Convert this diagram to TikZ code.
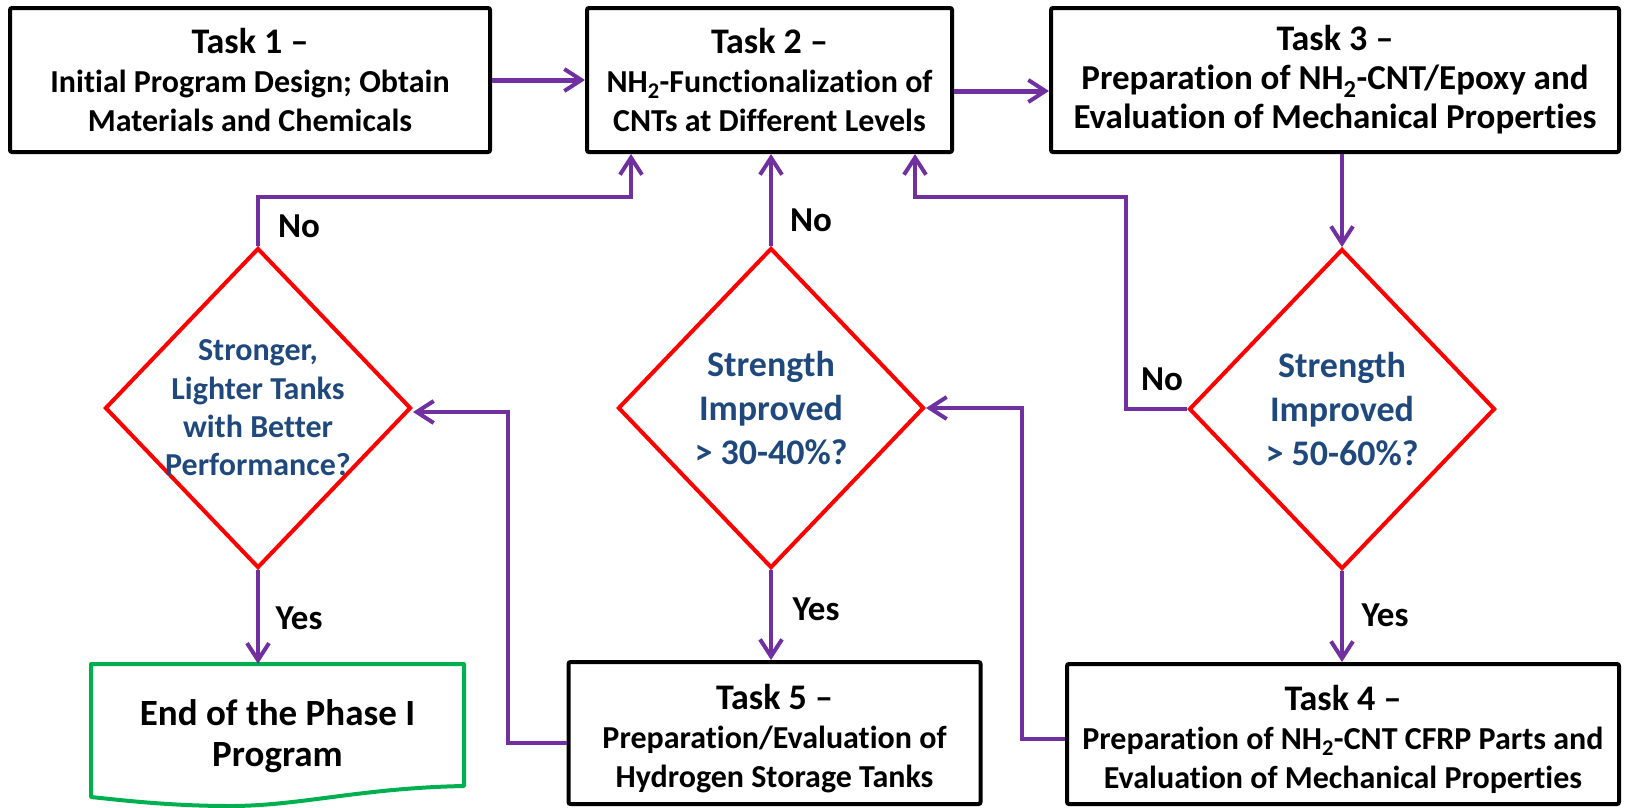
\documentclass[tikz,border=0pt]{standalone}
\usepackage{fontspec}
\setmainfont{Carlito}[Ligatures={NoCommon}]
\usetikzlibrary{arrows.meta,shapes.geometric,calc}
\definecolor{lpurple}{RGB}{112,48,160}
\definecolor{dblue}{RGB}{31,73,125}
\definecolor{lgreen}{RGB}{0,176,80}
\begin{document}
\begin{tikzpicture}[x=1pt,y=-1pt,
 taskbox/.style={draw=black,line width=4pt,rounded corners=2pt,align=center,inner sep=0pt,font=\bfseries\fontsize{32}{39}\selectfont},
 decbox/.style={diamond,draw=red,line width=4pt,inner sep=-60pt,minimum width=306pt,minimum height=320pt,align=center,text=dblue},
 arr/.style={draw=lpurple,line width=4pt,-{Straight Barb[length=17pt,width=22pt,line width=4pt]}},
 lbl/.style={font=\bfseries\fontsize{35}{40}\selectfont,inner sep=0pt}]
\useasboundingbox (0,0) rectangle (1627,807);
% boxes
\node[taskbox,minimum width=480pt,minimum height=144pt] (t1) at (250,80)
 {{\fontsize{36}{39}\selectfont Task 1 –}\\Initial Program Design; Obtain\\Materials and Chemicals};
\node[taskbox,minimum width=365pt,minimum height=144pt] (t2) at (769.5,80)
 {{\fontsize{36}{39}\selectfont Task 2 –}\\NH\textsubscript{2}-Functionalization of\\CNTs at Different Levels};
\node[taskbox,minimum width=568pt,minimum height=144pt,font=\bfseries\fontsize{35}{39}\selectfont] (t3) at (1335,80)
 {{\fontsize{36}{39}\selectfont Task 3 –}\\Preparation of NH\textsubscript{2}-CNT/Epoxy and\\Evaluation of Mechanical Properties};
\node[taskbox,minimum width=412pt,minimum height=142pt] (t5) at (774.5,733)
 {{\fontsize{36}{40}\selectfont\rule{0pt}{36pt}Task 5 –}\\Preparation/Evaluation of\\Hydrogen Storage Tanks};
\node[taskbox,minimum width=552pt,minimum height=140pt] (t4) at (1343,734)
 {{\fontsize{36}{40}\selectfont\rule{0pt}{36pt}Task 4 –}\\Preparation of NH\textsubscript{2}-CNT CFRP Parts and\\Evaluation of Mechanical Properties};
% decisions
\node[decbox,font=\bfseries\fontsize{32}{38.4}\selectfont] (d1) at (258,408)
 {Stronger,\\Lighter Tanks\\with Better\\Performance?};
\node[decbox,font=\bfseries\fontsize{36}{43.6}\selectfont] (d2) at (771,408)
 {Strength\\Improved\\> 30-40\%?};
\node[decbox,font=\bfseries\fontsize{36}{43.6}\selectfont] (d3) at (1342,409)
 {Strength\\Improved\\> 50-60\%?};
% end document shape
\draw[lgreen,line width=4pt,line join=round]
 (91,664) -- (464,664) -- (464,786) .. controls (360,788) and (300,806) .. (230,806)
 .. controls (170,806) and (120,800) .. (91,797) -- cycle;
\node[inner sep=0pt,align=center,minimum width=373pt,minimum height=144pt,
 font=\bfseries\fontsize{37}{41.5}\selectfont] (end) at (277.5,736) {End of the Phase I\\Program};
% coordinates
\coordinate (c1) at (631,197);
\coordinate (c3) at (1126,197);
\coordinate (c5) at (508,412);
\coordinate (c4) at (1022,408);
% connectors
\draw[arr,line width=5pt] (t1.east) -- (t2.west);
\draw[arr,line width=5pt] (t2.east |- 0,91) -- (t3.west |- 0,91);
\draw[arr] (d3.north |- t3.south) -- (d3.north);
\draw[arr] (d3.south) -- (d3.south |- t4.north);
\draw[arr] (d3.west) -| (c3) -| (t2.south -| 915,0);
\draw[arr] (d2.north) -- (d2.north |- t2.south);
\draw[arr] (d1.north) |- (c1) -- (c1 |- t2.south);
\draw[arr] (d1.south) -- (d1.south |- end.north);
\draw[arr] (d2.south) -- (d2.south |- t5.north);
\draw[arr] (t5.west |- 0,743) -| (c5) -- (d1.east |- c5);
\draw[arr] (t4.west |- 0,739) -| (c4) -- (d2.east);
% labels
\node[lbl] (no1) at (299,226) {No};
\node[lbl] (no2) at (811,220) {No};
\node[lbl] (no3) at (1162,379) {No};
\node[lbl] (yes1) at (299,618) {Yes};
\node[lbl] (yes2) at (816,609) {Yes};
\node[lbl] (yes3) at (1385,615) {Yes};
\end{tikzpicture}
\end{document}
